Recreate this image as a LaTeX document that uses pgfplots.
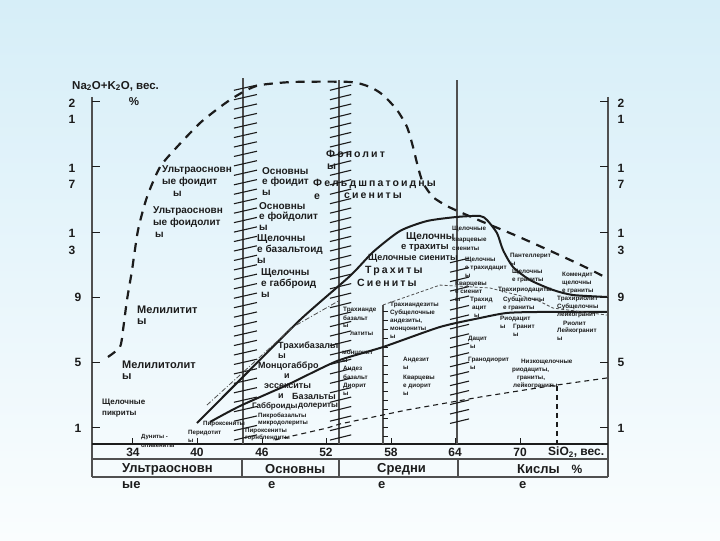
\documentclass[border=0pt]{standalone}
\usepackage{pgfplots}
\pgfplotsset{compat=1.18}
\usepackage{fontspec}
\setmainfont{Liberation Sans}
\usetikzlibrary{backgrounds}
\definecolor{lc}{RGB}{28,28,28}
\definecolor{gl}{RGB}{80,80,80}
\definecolor{bgtop}{RGB}{214,238,248}
\definecolor{bgbot}{RGB}{250,253,254}
% text node at picture position (px from left, px from top)
\newcommand{\T}[5][]{\node[anchor=west,inner sep=0pt,text=lc,font=\fontsize{#2}{#2}\selectfont\bfseries,#1] at (axis cs:{34+(#3-133)/10.75},{(444-#4)/16.3}) {#5};}
\newcommand{\Tc}[5][]{\node[anchor=center,inner sep=0pt,text=lc,font=\fontsize{#2}{#2}\selectfont\bfseries,#1] at (axis cs:{34+(#3-133)/10.75},{(444-#4)/16.3}) {#5};}
\tikzset{ls/.style={font=\fontsize{10.5}{10.5}\selectfont\bfseries\addfontfeature{LetterSpace=20}}}
\begin{document}
\begin{tikzpicture}
\begin{axis}[hide axis, scale only axis, x=10.75pt, y=16.3pt,
  xmin=30.19, xmax=78.19, ymin=0, ymax=21.29, clip=false]
\coordinate (bl) at (axis cs:21.628,-5.890);
\coordinate (tr) at (axis cs:88.605,27.239);
% frame and table
\draw[gl, line width=1.3pt] (axis cs:30.19,21.29) -- (axis cs:30.19,-2.02);
\draw[gl, line width=1.3pt] (axis cs:78.19,21.29) -- (axis cs:78.19,-2.02);
\draw[lc, line width=1.3pt] (axis cs:30.19,0) -- (axis cs:78.19,0);
\draw[gl, line width=1.3pt] (axis cs:30.19,-0.92) -- (axis cs:78.19,-0.92);
\draw[gl, line width=1.3pt] (axis cs:30.19,-2.02) -- (axis cs:78.19,-2.02);
\draw[gl, line width=1.3pt] (axis cs:44.14,-0.92) -- (axis cs:44.14,-2.02);
\draw[gl, line width=1.3pt] (axis cs:53.16,-0.92) -- (axis cs:53.16,-2.02);
\draw[gl, line width=1.3pt] (axis cs:64.23,-0.92) -- (axis cs:64.23,-2.02);
% ticks
\pgfplotsinvokeforeach{1,5,9,13,17,21}{
  \draw[lc, line width=1pt] (axis cs:30.19,#1) -- (axis cs:30.93,#1);
  \draw[lc, line width=1pt] (axis cs:77.45,#1) -- (axis cs:78.19,#1);}
\pgfplotsinvokeforeach{34,40,46,52,58,64,70}{
  \draw[lc, line width=1pt] (axis cs:#1,0) -- (axis cs:#1,0.37);}
% vertical boundaries
\draw[gl, line width=2pt] (axis cs:44.23,22.45) -- (axis cs:44.23,0);
\draw[gl, line width=2pt] (axis cs:53.16,22.33) -- (axis cs:53.16,0);
\draw[gl, line width=2pt] (axis cs:64.14,22.33) -- (axis cs:64.14,0);
\draw[gl, line width=1.3pt] (axis cs:57.26,8.53) -- (axis cs:57.26,0);
\pgfplotsinvokeforeach{0.4,0.98,...,21.8}{
  \draw[lc, line width=1.1pt] (axis cs:43.39,#1-0.16) -- (axis cs:45.53,#1+0.16);
  \draw[lc, line width=1.1pt] (axis cs:52.32,#1-0.16) -- (axis cs:54.30,#1+0.16);}
\pgfplotsinvokeforeach{1.4,1.98,...,11.4}{
  \draw[lc, line width=1.1pt] (axis cs:63.49,#1-0.14) -- (axis cs:65.26,#1+0.14);}
\pgfplotsinvokeforeach{0.45,1.0,...,8.2}{
  \draw[lc, line width=0.8pt] (axis cs:57.26,#1) -- (axis cs:57.73,#1);}
% dashed envelope
\addplot[lc, line width=2.2pt, dash pattern=on 9pt off 7pt, smooth, tension=0.4] coordinates {
(31.67,5.34) (32.79,5.95) (33.07,6.99) (33.44,8.83) (33.91,10.67) (34.47,13.13)
(35.30,15.15) (36.51,16.99) (38.09,18.22) (40.23,19.69) (42.09,20.67) (43.30,21.23)
(44.60,21.72) (45.81,22.02) (48.88,22.21) (54.19,22.21) (56.05,21.90) (57.26,21.41)
(58.56,20.49) (59.49,19.45) (60.05,18.22) (60.51,16.99) (60.98,16.01) (61.91,15.15)
(63.21,14.60) (64.42,14.23) (66.56,13.62) (69.72,12.76) (73.44,11.66) (75.86,10.92) (78.09,10.18)};
% upper solid curve
\addplot[lc, line width=2pt, smooth, tension=0.4] coordinates {
(39.95,1.29) (43.95,3.93) (49.53,7.61) (54.19,10.31) (56.33,11.78) (58.84,13.07)
(61.35,13.68) (64.14,13.93) (66.28,13.99) (66.93,13.74) (67.86,12.94) (68.42,11.90)
(69.35,10.86) (70.93,10.06) (73.07,9.45) (74.93,9.14) (78.09,9.02)};
% lower solid curve
\addplot[lc, line width=2pt, smooth, tension=0.4] coordinates {
(41.16,1.35) (43.95,2.33) (48.33,3.62) (52.98,5.09) (57.26,5.95) (62.56,7.18)
(66.28,7.73) (68.79,8.04) (71.86,8.10) (78.09,8.10)};
% bottom dashed line
\addplot[lc, line width=1.1pt, dash pattern=on 5pt off 4pt] coordinates {
(47.21,0.25) (52.05,0.98) (53.26,1.23) (59.49,2.09) (66.28,2.88) (72.79,3.56) (78.09,4.05)};
\addplot[lc, line width=1.1pt, dash pattern=on 5pt off 4pt] coordinates {(73.44,3.56) (73.44,0)};
% thin dash-dot lines
\addplot[gl, line width=0.8pt, dash pattern=on 5pt off 2pt on 1pt off 2pt] coordinates {
(40.88,2.39) (48.88,7.18) (53.26,8.83)};
\addplot[gl, line width=0.8pt, dash pattern=on 3pt off 2pt] coordinates {
(57.26,8.53) (58.56,8.83) (62.56,9.75) (67.21,9.57) (71.58,8.83) (73.07,8.34) (78.09,7.91)};
% ---------- axis texts ----------
\T{11.5}{72}{86}{Na\textsubscript{2}O+K\textsubscript{2}O, вес.}
\Tc{11.5}{134}{102}{\%}
\Tc{12}{72}{103}{2}\Tc{12}{72}{119}{1}
\Tc{12}{72}{168}{1}\Tc{12}{72}{184}{7}
\Tc{12}{72}{233}{1}\Tc{12}{72}{250}{3}
\Tc{12}{78}{297}{9}\Tc{12}{78}{362}{5}\Tc{12}{78}{428}{1}
\Tc{12}{621}{103}{2}\Tc{12}{621}{119}{1}
\Tc{12}{621}{168}{1}\Tc{12}{621}{184}{7}
\Tc{12}{621}{233}{1}\Tc{12}{621}{250}{3}
\Tc{12}{621}{297}{9}\Tc{12}{621}{362}{5}\Tc{12}{621}{428}{1}
\Tc{12}{133}{452}{34}\Tc{12}{197}{452}{40}\Tc{12}{262}{452}{46}\Tc{12}{326}{452}{52}
\Tc{12}{391}{452}{58}\Tc{12}{455}{452}{64}\Tc{12}{520}{452}{70}
\T{12}{548}{452}{SiO\textsubscript{2}, вес.}
\Tc{12}{577}{469}{\%}
\T{13}{122}{469}{Ультраосновн}\T{13}{122}{485}{ые}
\T{13}{265}{469}{Основны}\T{13}{268}{485}{е}
\T{13}{377}{469}{Средни}\T{13}{378}{485}{е}
\T{13}{517}{469}{Кислы}\T{13}{519}{485}{е}
% ---------- ultrabasic ----------
\T{10}{162}{170}{Ультраосновн}\T{10}{162}{182}{ые фоидит}\T{10}{173}{194}{ы}
\T{10}{153}{211}{Ультраосновн}\T{10}{153}{223}{ые фоидолит}\T{10}{155}{235}{ы}
\T{11}{137}{310}{Мелилитит}\T{11}{137}{322}{ы}
\T{11}{122}{365}{Мелилитолит}\T{11}{122}{377}{ы}
\T{8}{102}{403}{Щелочные}\T{8}{102}{414}{пикриты}
\T{6}{141}{437}{Дуниты -}\T{6}{141}{446}{оливениты}
\T{6.2}{188}{433}{Перидотит}\T{6.2}{188}{441}{ы}
\T{6.2}{203}{424}{Пироксениты}
% ---------- basic ----------
\T{10}{262}{171}{Основны}\T{10}{262}{182}{е фоидит}\T{10}{262}{193}{ы}
\T{10}{259}{206}{Основны}\T{10}{259}{217}{е фойдолит}\T{10}{259}{228}{ы}
\T{10}{257}{239}{Щелочны}\T{10}{257}{250}{е базальтоид}\T{10}{257}{261}{ы}
\T{10}{261}{273}{Щелочны}\T{10}{261}{284}{е габброид}\T{10}{261}{295}{ы}
\T{9}{278}{346}{Трахибазальт}\T{9}{278}{356}{ы}
\T{9}{258}{366}{Монцогаббро}\T{9}{284}{376}{и}
\T{9}{264}{386}{эссекситы}
\T{9}{278}{396}{и}\T{9}{292}{396}{Базальты}
\T{8}{252}{406}{Габброиды}\T{8}{298}{406}{долериты}
\T{6.2}{258}{416}{Пикробазальты}\T{6.2}{258}{423}{микродолериты}
\T{6.2}{245}{431}{Пироксениты}\T{6.2}{245}{438}{горнблендиты}
% ---------- foid / trachyte ----------
\T[ls]{10.5}{326}{154}{Фонолит}\T{10.5}{327}{167}{ы}
\T[ls]{10.5}{313}{184}{Фельдшпатоидны}\T{10.5}{314}{197}{е}
\T[ls]{10.5}{344}{196}{сиениты}
\T{10}{406}{237}{Щелочны}\T{9.5}{401}{248}{е трахиты}
\T{9}{368}{258}{Щелочные сиениты}
\T[ls]{10.5}{365}{271}{Трахиты}
\T[ls]{10.5}{357}{283}{Сиениты}
% ---------- intermediate ----------
\T{6.3}{343}{310}{Трахианде}\T{6.3}{343}{318}{базальт}\T{6.3}{343}{326}{ы}\T{6.3}{350}{334}{латиты}
\T{6.3}{390}{305}{Трахиандезиты}\T{6.3}{390}{313}{Субщелочные}\T{6.3}{390}{321}{андезиты,}
\T{6.3}{390}{329}{монцониты}\T{6.3}{390}{337}{ы}
\T{6.3}{342}{353}{монцонит}\T{6.3}{342}{361}{ы}
\T{6.3}{343}{369}{Андез}\T{6.3}{343}{377}{базальт}\T{6.3}{343}{386}{Диорит}\T{6.3}{343}{394}{ы}
\T{6.3}{403}{360}{Андезит}\T{6.3}{403}{368}{ы}
\T{6.3}{403}{378}{Кварцевы}\T{6.3}{403}{386}{е диорит}\T{6.3}{403}{394}{ы}
% ---------- acid ----------
\T{6.3}{452}{229}{Щелочные}\T{6.3}{452}{240}{кварцевые}\T{6.3}{452}{249}{сиениты}
\T{6.3}{465}{260}{Щелочны}\T{6.3}{465}{268}{е трахидацит}\T{6.3}{465}{276}{ы}
\T{6.3}{455}{284}{Кварцевы}\T{6.3}{455}{292}{е сиенит}\T{6.3}{455}{300}{ы}
\T{6.3}{470}{300}{Трахид}\T{6.3}{472}{308}{ацит}\T{6.3}{474}{316}{ы}
\T{6.3}{510}{256}{Пантеллерит}\T{6.3}{510}{264}{ы}
\T{6.3}{512}{272}{Щелочны}\T{6.3}{512}{280}{е граниты}
\T{6.3}{498}{290}{Трахириодациты}
\T{6.3}{503}{300}{Субщелочны}\T{6.3}{503}{308}{е граниты}
\T{6.3}{500}{319}{Риодацит}\T{6.3}{500}{327}{ы}\T{6.3}{513}{327}{Гранит}\T{6.3}{513}{335}{ы}
\T{6.3}{562}{275}{Комендит}\T{6.3}{562}{283}{щелочны}\T{6.3}{562}{291}{е граниты}
\T{6.3}{557}{299}{Трахириолит}\T{6.3}{557}{307}{Субщелочны}\T{6.3}{557}{315}{лейкогранит}
\T{6.3}{563}{323}{Риолит}\T{6.3}{557}{331}{Лейкогранит}\T{6.3}{557}{339}{ы}
\T{6.3}{468}{339}{Дацит}\T{6.3}{470}{347}{ы}
\T{6.3}{468}{360}{Гранодиорит}\T{6.3}{470}{368}{ы}
\T{6.3}{521}{362}{Низкощелочные}\T{6.3}{512}{370}{риодациты,}\T{6.3}{517}{378}{граниты,}\T{6.3}{513}{386}{лейкограниты}
\end{axis}
\begin{scope}[on background layer]
\shade[top color=bgtop, bottom color=bgbot] (bl) rectangle (tr);
\end{scope}
\pgfresetboundingbox
\useasboundingbox (bl) rectangle (tr);
\end{tikzpicture}
\end{document}
